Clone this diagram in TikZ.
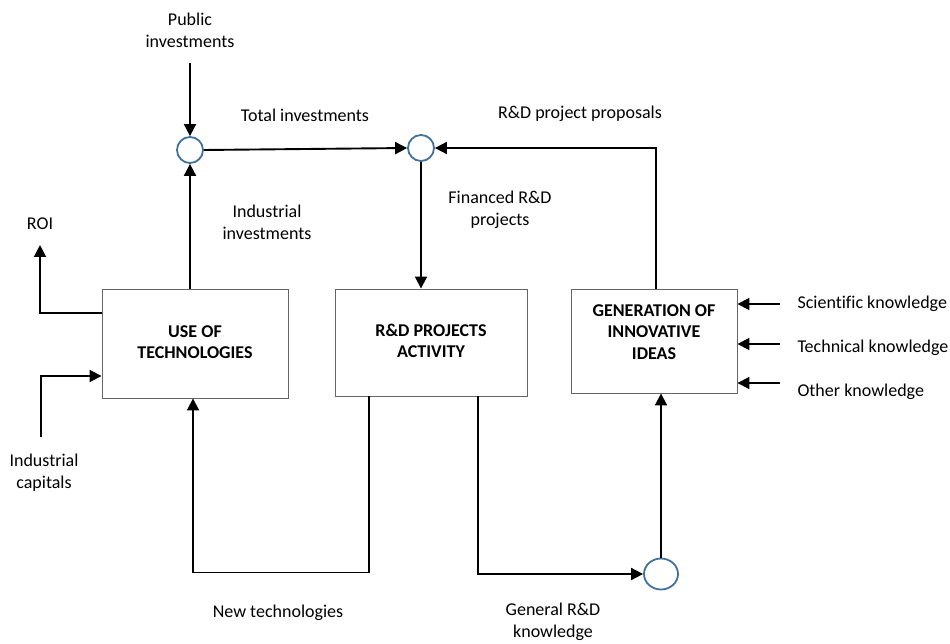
\documentclass[tikz,border=0pt]{standalone}
\usepackage{fontspec}
\setmainfont{Carlito}[Ligatures=NoCommon]
\usetikzlibrary{arrows.meta,shapes.geometric,calc}
\definecolor{jblue}{RGB}{65,113,156}
\begin{document}
\begin{tikzpicture}[x=1pt,y=-1pt,
  every node/.style={font=\fontsize{18}{22}\selectfont},
  box/.style={draw=black!60,line width=0.9pt,inner sep=0pt},
  boxtext/.style={font=\fontsize{18}{21.5}\selectfont\bfseries,align=center},
  lbl/.style={align=center},
  junc/.style={circle,draw=jblue,line width=1.8pt,minimum size=26pt,inner sep=0pt},
  arr/.style={line width=1.9pt,-{Triangle[length=12pt,width=12pt]}}]
\useasboundingbox (0,0) rectangle (950,644);
% boxes
\node[box,minimum width=186pt,minimum height=109pt] (use) at (195,343.5) {};
\node[box,minimum width=192pt,minimum height=107pt] (rd) at (431,342.5) {};
\node[box,minimum width=166pt,minimum height=104pt] (gen) at (654,341) {};
\node[boxtext] (usetxt) at (195,342) {USE OF\\TECHNOLOGIES};
\node[boxtext] (rdtxt) at (431,341) {R\&D PROJECTS\\ACTIVITY};
\node[boxtext] (gentxt) at (654,332) {GENERATION OF\\INNOVATIVE\\IDEAS};
% junctions
\node[junc] (c1) at (190,150) {};
\node[junc] (c2) at (421,148) {};
\node[ellipse,draw=jblue,line width=1.8pt,minimum width=34pt,minimum height=31pt,inner sep=0pt] (c3) at (661,574) {};
% coordinates
\coordinate (pub) at (190,63);
\coordinate (roi) at (40,245);
\coordinate (ic) at (41,437);
\coordinate (k1) at (780,304);
\coordinate (k2) at (780,344);
\coordinate (k3) at (780,383);
% connectors
\draw[arr] (pub) -- (c1.north);
\draw[arr] (c1.east) -- (c2.west);
\draw[arr] (c1 |- use.north) -- (c1.south);
\draw[arr] (c2.south) -- (c2 |- rd.north);
\draw[arr] ([xshift=2pt]gen.north) |- (c2.east);
\draw[arr] ([yshift=30.5pt]use.west) -| (roi);
\draw[arr] (ic) |- ([yshift=-32.5pt]use.west);
\draw[arr] ([xshift=-62pt]rd.south) -- ++(0,176) -| ([xshift=-2pt]use.south);
\draw[arr] ([xshift=47pt]rd.south) |- (c3.west);
\draw[arr] (c3.north) -- (c3.north |- gen.south);
\draw[arr] (k1) -- (k1 -| gen.east);
\draw[arr] (k2) -- (k2 -| gen.east);
\draw[arr] (k3) -- (k3 -| gen.east);
% labels
\node[lbl] (lpub) at (190,30) {Public\\investments};
\node[lbl] (ltot) at (305,115) {Total investments};
\node[lbl] (lind) at (267,222) {Industrial\\investments};
\node[lbl] (lfin) at (500,210) {Financed R\&D\\projects};
\node[lbl] (lprop) at (580,114) {R\&D project proposals};
\node[lbl] (lroi) at (40,224) {ROI};
\node[lbl] (lic) at (44,473) {Industrial\\capitals};
\node[lbl] (lnew) at (278,613) {New technologies};
\node[lbl] (lgen) at (553,622) {General R\&D\\knowledge};
\node[lbl,anchor=west] (lk1) at (794,304) {Scientific knowledge};
\node[lbl,anchor=west] (lk2) at (794,348) {Technical knowledge};
\node[lbl,anchor=west] (lk3) at (794,392) {Other knowledge};
\end{tikzpicture}
\end{document}
